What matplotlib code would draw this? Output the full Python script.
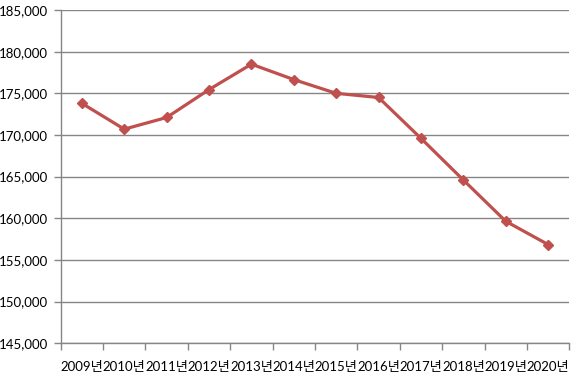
import matplotlib.pyplot as plt
from matplotlib.ticker import FuncFormatter, FixedLocator

plt.rcParams['font.family'] = ['Lato', 'Noto Sans CJK KR', 'DejaVu Sans']

years = ['2009년', '2010년', '2011년', '2012년', '2013년', '2014년',
         '2015년', '2016년', '2017년', '2018년', '2019년', '2020년']
values = [173800, 170700, 172100, 175450, 178500, 176650,
          175000, 174500, 169600, 164600, 159650, 156850]

fig = plt.figure(figsize=(5.74, 3.79), dpi=100)
ax = fig.add_axes([0.1057, 0.0942, 0.8861, 0.8794])

x = list(range(len(years)))
ax.plot(x, values, color='#C0504D', linewidth=2.3, marker='D', markersize=5.5,
        markeredgecolor='#C0504D', zorder=3)

ax.set_xlim(-0.5, len(years) - 0.5)
ax.set_ylim(145000, 185000)
ax.set_yticks(range(145000, 185001, 5000))
ax.yaxis.set_major_formatter(FuncFormatter(lambda v, p: '{:,.0f}'.format(v)))
ax.yaxis.grid(True, color='#868686', linewidth=1)
ax.set_axisbelow(True)

ax.set_xticks(x)
ax.set_xticklabels(years)
ax.xaxis.set_minor_locator(FixedLocator([i - 0.5 for i in range(len(years) + 1)]))
ax.tick_params(axis='x', which='major', length=0, pad=13, labelsize=9.5, colors='black')
ax.tick_params(axis='x', which='minor', length=5, color='#868686', width=1)
ax.tick_params(axis='y', length=5, color='#868686', width=1, labelsize=9.5, pad=4)

for s in ['top', 'right']:
    ax.spines[s].set_visible(False)
for s in ['left', 'bottom']:
    ax.spines[s].set_color('#868686')
    ax.spines[s].set_linewidth(1)

fig.savefig('out.png', dpi=100)
